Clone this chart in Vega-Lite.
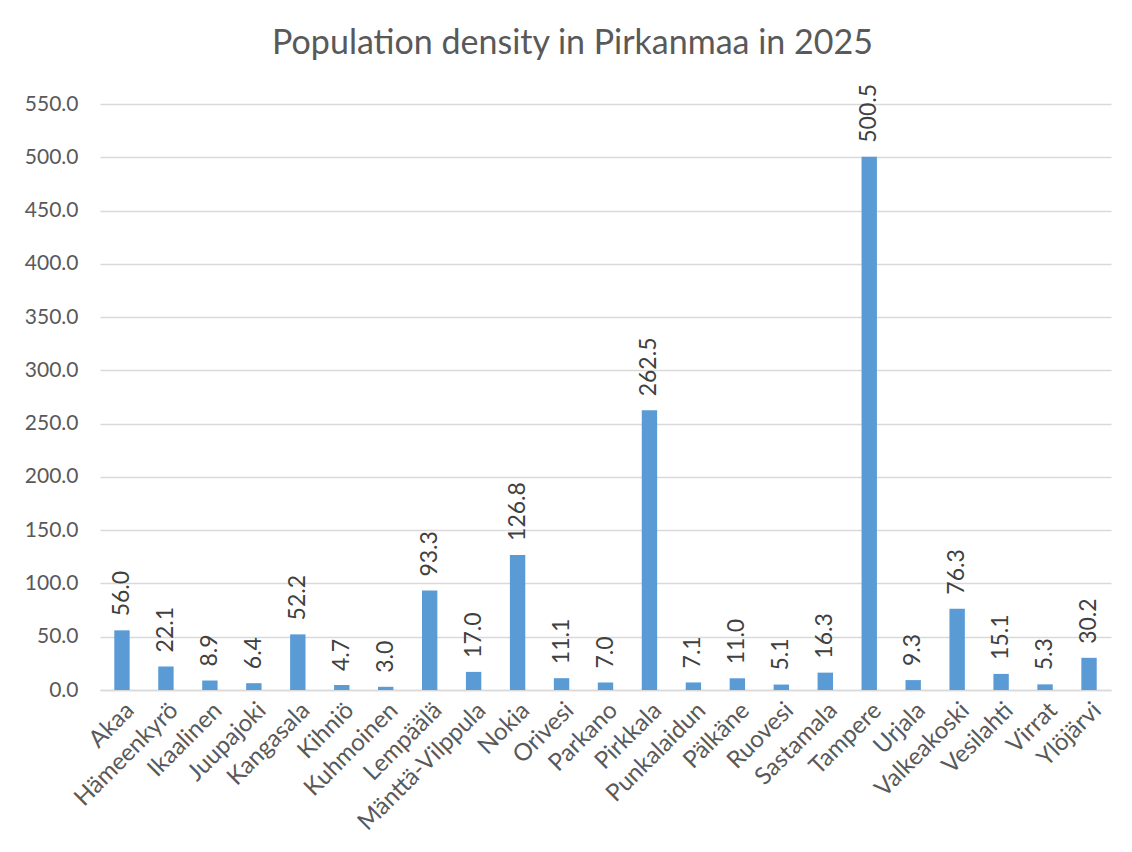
{
  "$schema": "https://vega.github.io/schema/vega-lite/v6.json",
  "autosize": "none",
  "width": 1011,
  "height": 586,
  "padding": {"left": 100, "top": 104, "right": 21, "bottom": 162},
  "background": "white",
  "title": {
    "text": "Population density in Pirkanmaa in 2025",
    "font": "Lato",
    "fontSize": 34,
    "fontWeight": "normal",
    "color": "#595959",
    "anchor": "middle",
    "frame": "group",
    "dx": -33,
    "offset": 23
  },
  "data": {
    "values": [
      {"municipality": "Akaa", "density": 56.0},
      {"municipality": "Hämeenkyrö", "density": 22.1},
      {"municipality": "Ikaalinen", "density": 8.9},
      {"municipality": "Juupajoki", "density": 6.4},
      {"municipality": "Kangasala", "density": 52.2},
      {"municipality": "Kihniö", "density": 4.7},
      {"municipality": "Kuhmoinen", "density": 3.0},
      {"municipality": "Lempäälä", "density": 93.3},
      {"municipality": "Mänttä-Vilppula", "density": 17.0},
      {"municipality": "Nokia", "density": 126.8},
      {"municipality": "Orivesi", "density": 11.1},
      {"municipality": "Parkano", "density": 7.0},
      {"municipality": "Pirkkala", "density": 262.5},
      {"municipality": "Punkalaidun", "density": 7.1},
      {"municipality": "Pälkäne", "density": 11.0},
      {"municipality": "Ruovesi", "density": 5.1},
      {"municipality": "Sastamala", "density": 16.3},
      {"municipality": "Tampere", "density": 500.5},
      {"municipality": "Urjala", "density": 9.3},
      {"municipality": "Valkeakoski", "density": 76.3},
      {"municipality": "Vesilahti", "density": 15.1},
      {"municipality": "Virrat", "density": 5.3},
      {"municipality": "Ylöjärvi", "density": 30.2}
    ]
  },
  "encoding": {
    "x": {
      "field": "municipality",
      "type": "nominal",
      "sort": null,
      "title": null,
      "scale": {"paddingInner": 0.65, "paddingOuter": 0.325},
      "axis": {
        "labelAngle": -45,
        "labelAlign": "right",
        "labelBaseline": "top",
        "labelFont": "Lato",
        "labelFontSize": 24,
        "labelColor": "#595959",
        "labelPadding": 8,
        "ticks": false,
        "domainColor": "#D9D9D9",
        "domainWidth": 1.5,
        "grid": false
      }
    },
    "y": {
      "field": "density",
      "type": "quantitative",
      "title": null,
      "scale": {"domain": [0, 550]},
      "axis": {
        "values": [0, 50, 100, 150, 200, 250, 300, 350, 400, 450, 500, 550],
        "format": ".1f",
        "labelFont": "Lato",
        "labelFontSize": 21,
        "labelColor": "#595959",
        "labelPadding": 22,
        "ticks": false,
        "domain": false,
        "gridColor": "#D9D9D9",
        "gridWidth": 1.5
      }
    }
  },
  "layer": [
    {"mark": {"type": "bar", "color": "#5B9BD5"}},
    {
      "mark": {
        "type": "text",
        "angle": 270,
        "align": "left",
        "baseline": "middle",
        "dx": 14,
        "font": "Lato",
        "fontSize": 23,
        "color": "#404040"
      },
      "encoding": {
        "text": {"field": "density", "type": "quantitative", "format": ".1f"}
      }
    }
  ],
  "config": {"view": {"stroke": null}}
}
